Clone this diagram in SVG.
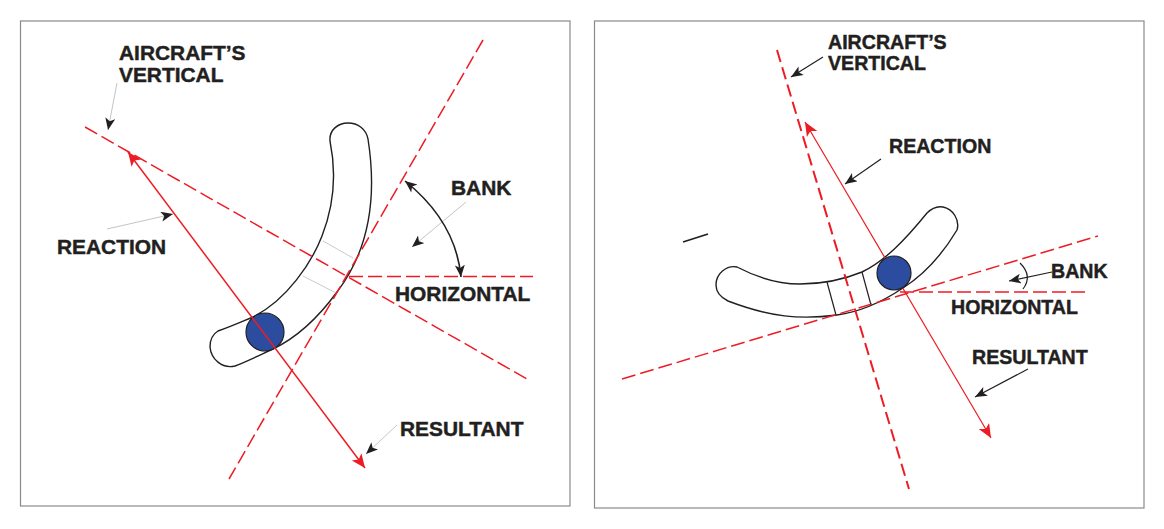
<svg xmlns="http://www.w3.org/2000/svg" width="1164" height="529" viewBox="0 0 1164 529">
<style>
text{font-family:"Liberation Sans",Arial,sans-serif;font-weight:700;fill:#231f20;stroke:#231f20;stroke-width:.45}
.l{font-size:20.9px}.r{font-size:19.6px}
.panel{fill:#fff;stroke:#8a8a8a;stroke-width:1.2}
.dash{fill:none;stroke:#ed1c24;stroke-width:1.5;stroke-dasharray:14 5}
.dash2{fill:none;stroke:#ed1c24;stroke-width:2;stroke-dasharray:12.5 5.5}
.force{fill:none;stroke:#ed1c24;stroke-width:1.5;marker-start:url(#rs);marker-end:url(#ra)}
.force2{fill:none;stroke:#ed1c24;stroke-width:1.2;marker-start:url(#rs);marker-end:url(#ra)}
.band{fill:#fff;stroke:#231f20;stroke-width:1.4}
.ball{fill:#2b4c9f;stroke:#231f20;stroke-width:1.2}
.tg{fill:none;stroke:#bdbdbd;stroke-width:.8}
.tk{fill:none;stroke:#231f20;stroke-width:1.2}
.sk{fill:none;stroke:#231f20;stroke-width:1.7}
.lg{fill:none;stroke:#b5b5b5;stroke-width:.8;marker-end:url(#ka)}
.lk{fill:none;stroke:#231f20;stroke-width:1.2;marker-end:url(#ka)}
.arc{fill:none;stroke:#231f20;stroke-width:1.6;marker-start:url(#ks);marker-end:url(#ka)}
</style>
<defs>
<marker id="ra" markerUnits="userSpaceOnUse" markerWidth="16" markerHeight="14" refX="14" refY="6" orient="auto"><path d="M0 0L14 6L0 12L3.5 6Z" fill="#ed1c24"/></marker>
<marker id="rs" markerUnits="userSpaceOnUse" markerWidth="16" markerHeight="14" refX="0" refY="6" orient="auto"><path d="M14 0L0 6L14 12L10.5 6Z" fill="#ed1c24"/></marker>
<marker id="ka" markerUnits="userSpaceOnUse" markerWidth="14" markerHeight="12" refX="12" refY="5" orient="auto"><path d="M0 0L12 5L0 10L3 5Z" fill="#231f20"/></marker>
<marker id="ks" markerUnits="userSpaceOnUse" markerWidth="14" markerHeight="12" refX="0" refY="5" orient="auto"><path d="M12 0L0 5L12 10L9 5Z" fill="#231f20"/></marker>
</defs>
<rect class="panel" x="20.5" y="21" width="549.5" height="485"/>
<rect class="panel" x="594.5" y="21" width="549.5" height="487"/>
<g id="left-band">
<path class="band" d="M330 141C329 130 338 123 348 123C358 123 366 129 368 139C376 190 373 245 337 292C318 318 298 337 273 349C262 354 248 361 235 366C222 369 211 359 210 347C210 340 213 334 218 331C230 327 241 322 253 317C287 300 312 262 322 236C334 205 337 175 330 141Z"/>
<path class="tg" d="M323 241L353 258M303 276L336 293"/>
</g>
<g id="left-ball"><circle class="ball" cx="265" cy="332" r="19"/></g>
<g id="right-band">
<path class="band" d="M737 267C760 279 780 284 800 284C822 284 845 279 862 272C885 261 905 240 927 213C933 207 938 206 943 207C953 209 960 220 957 230C942 255 925 274 903 288C885 300 860 312 837 315C800 320 770 317 728 301C720 297 716 291 716 285C716 273 727 265 737 267Z"/>
<path class="tk" d="M827 282L836 315M862 272L871 305"/>
</g>
<g id="connectors">
<path class="dash" d="M85 127L527 379"/>
<path class="dash" d="M483 40L229 479"/>
<path class="dash" d="M349 276.5H533"/>
<path class="force" d="M128 152L365 468"/>
<path class="lg" d="M117 83L108 130"/>
<path class="lg" d="M107 229L173 214"/>
<path class="lg" d="M466 202L412 247"/>
<path class="lg" d="M397 425L366 454"/>
<path class="arc" d="M405 181C435 205 457 235 461 277"/>
<path class="dash2" d="M777 50L909 489"/>
<path class="dash" d="M622 379L1098 236"/>
<path class="dash" d="M900 292H1090"/>
<path class="force2" d="M805 122L991 438"/>
<path class="lk" d="M823 57L791 77"/>
<path class="lk" d="M881 159L845 184"/>
<path class="lk" d="M1052 272L1009 281"/>
<path class="lk" d="M1028 369L975 397"/>
<path class="tk" d="M1020 263Q1033 276 1023 289"/>
<path class="sk" d="M683 242L708 234"/>
</g>
<g id="right-ball"><circle class="ball" cx="894" cy="273" r="17"/></g>
<g id="left-labels">
<text class="l" x="119" y="60">AIRCRAFT’S</text>
<text class="l" x="119" y="82">VERTICAL</text>
<text class="l" x="57" y="254">REACTION</text>
<text class="l" x="451" y="195">BANK</text>
<text class="l" x="395" y="301">HORIZONTAL</text>
<text class="l" x="400" y="436">RESULTANT</text>
</g>
<g id="right-labels">
<text class="r" x="828" y="49">AIRCRAFT’S</text>
<text class="r" x="828" y="70">VERTICAL</text>
<text class="r" x="889" y="153">REACTION</text>
<text class="r" x="1051" y="278">BANK</text>
<text class="r" x="951" y="314">HORIZONTAL</text>
<text class="r" x="972" y="364">RESULTANT</text>
</g>
</svg>
